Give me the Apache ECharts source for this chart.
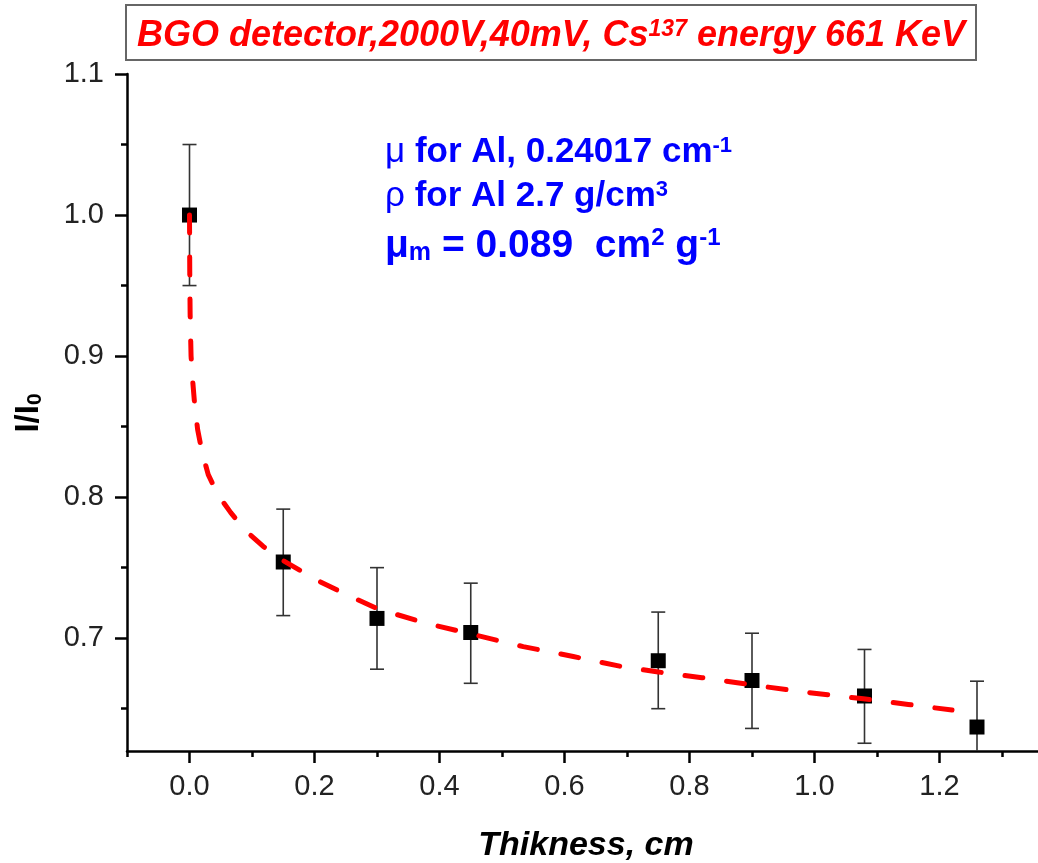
<!DOCTYPE html>
<html><head><meta charset="utf-8">
<script src="https://cdn.jsdelivr.net/npm/echarts@6/dist/echarts.min.js"></script>
<style>html,body{margin:0;padding:0;background:#fff}#c{width:1038px;height:863px}</style>
</head><body><div id="c"></div>
<script>
// measured data
const thickness = [0, 0.15, 0.30, 0.45, 0.75, 0.90, 1.08, 1.26];
const ratio     = [1.000, 0.754, 0.714, 0.704, 0.684, 0.670, 0.659, 0.637];
const errLow    = [0.950, 0.716, 0.678, 0.668, 0.650, 0.636, 0.6255, 0.605];
const errHigh   = [1.050, 0.7915, 0.750, 0.739, 0.7185, 0.7035, 0.692, 0.6695];
// fitted curve
const fitX = [0, 0.0004, 0.001, 0.0025, 0.005, 0.008, 0.013, 0.02, 0.03, 0.045, 0.066, 0.09, 0.118, 0.15, 0.20, 0.246, 0.30, 0.375, 0.45, 0.534, 0.614, 0.69, 0.75, 0.82, 0.898, 0.98, 1.078, 1.15, 1.22];
const fitY = [1.0, 0.96, 0.93, 0.90, 0.883, 0.867, 0.848, 0.832, 0.816, 0.802, 0.789, 0.776, 0.765, 0.755, 0.742, 0.732, 0.721, 0.711, 0.703, 0.694, 0.687, 0.680, 0.676, 0.672, 0.667, 0.662, 0.657, 0.653, 0.649];
// ticks
const xMajorTicks = [0, 0.2, 0.4, 0.6, 0.8, 1.0, 1.2];
const xMinorTicks = [-0.1, 0.1, 0.3, 0.5, 0.7, 0.9, 1.1, 1.3];
const yMajorTicks = [0.7, 0.8, 0.9, 1.0, 1.1];
const yMinorTicks = [0.65, 0.75, 0.85, 0.95, 1.05];
// texts
const titleParts = ['BGO detector,2000V,40mV, Cs', '137', ' energy 661 KeV'];
const xTitle = 'Thikness, cm';

const FONT = 'Liberation Sans, Arial, Helvetica, sans-serif';
const X_MIN = -0.1, X_MAX = 1.3576, Y_MIN = 0.62, Y_MAX = 1.1;

const chart = echarts.init(document.getElementById('c'), null, {renderer: 'canvas'});

const axisCommon = {
  type: 'value', splitLine: {show: false}, gridIndex: 0
};

const option = {
  backgroundColor: '#fff',
  animation: false,
  grid: {left: 127, right: 0, top: 74, bottom: 112, containLabel: false},
  xAxis: [
    Object.assign({}, axisCommon, {
      min: X_MIN, max: X_MAX, position: 'bottom',
      axisLine: {show: true, onZero: false, lineStyle: {color: '#000', width: 2.5}},
      axisTick: {show: true, customValues: xMajorTicks, length: 12, inside: false, lineStyle: {color: '#000', width: 2.5}},
      axisLabel: {show: true, customValues: xMajorTicks, margin: 21, color: '#222', fontSize: 29, fontFamily: FONT,
        formatter: v => v.toFixed(1)}
    }),
    Object.assign({}, axisCommon, {
      min: X_MIN, max: X_MAX, position: 'bottom',
      axisLine: {show: false, onZero: false},
      axisTick: {show: true, customValues: xMinorTicks, length: 6, lineStyle: {color: '#000', width: 2.5}},
      axisLabel: {show: false}
    })
  ],
  yAxis: [
    Object.assign({}, axisCommon, {
      min: Y_MIN, max: Y_MAX, position: 'left',
      axisLine: {show: true, onZero: false, lineStyle: {color: '#000', width: 2.5}},
      axisTick: {show: true, customValues: yMajorTicks, length: 12, lineStyle: {color: '#000', width: 2.5}},
      axisLabel: {show: true, customValues: yMajorTicks, margin: 23, color: '#222', fontSize: 29, fontFamily: FONT,
        formatter: v => v.toFixed(1)}
    }),
    Object.assign({}, axisCommon, {
      min: Y_MIN, max: Y_MAX, position: 'left',
      axisLine: {show: false, onZero: false},
      axisTick: {show: true, customValues: yMinorTicks, length: 6, lineStyle: {color: '#000', width: 2.5}},
      axisLabel: {show: false}
    })
  ],
  series: [
    {
      type: 'custom', xAxisIndex: 0, yAxisIndex: 0, clip: true, z: 2,
      data: thickness.map((x, i) => [x, errLow[i], errHigh[i]]),
      renderItem: function (params, api) {
        const x = api.value(0);
        const lo = api.coord([x, api.value(1)]);
        const hi = api.coord([x, api.value(2)]);
        const w = 7;
        const st = {stroke: '#333', lineWidth: 1.6};
        return {type: 'group', children: [
          {type: 'line', shape: {x1: lo[0], y1: lo[1], x2: hi[0], y2: hi[1]}, style: st},
          {type: 'line', shape: {x1: hi[0] - w, y1: hi[1], x2: hi[0] + w, y2: hi[1]}, style: st},
          {type: 'line', shape: {x1: lo[0] - w, y1: lo[1], x2: lo[0] + w, y2: lo[1]}, style: st}
        ]};
      }
    },
    {
      type: 'scatter', xAxisIndex: 0, yAxisIndex: 0, z: 3,
      symbol: 'rect', symbolSize: 15,
      itemStyle: {color: '#000', opacity: 1},
      data: thickness.map((x, i) => [x, ratio[i]])
    },
    {
      type: 'line', xAxisIndex: 0, yAxisIndex: 0, z: 4,
      showSymbol: false, symbol: 'none', smooth: false,
      lineStyle: {color: '#ff0000', width: 5, type: [18, 24], cap: 'round', join: 'round'},
      data: fitX.map((x, i) => [x, fitY[i]])
    }
  ],
  graphic: [
    {type: 'rect', shape: {x: 126, y: 5, width: 850, height: 55},
      style: {fill: '#fff', stroke: '#666', lineWidth: 2}, z: 10},
    {type: 'text', x: 551, y: 36, z: 11,
      style: {
        text: '{t|' + titleParts[0] + '}{s|' + titleParts[1] + '}{t|' + titleParts[2] + '}',
        align: 'center', verticalAlign: 'middle',
        rich: {
          t: {fontSize: 36, fontWeight: 'bold', fontStyle: 'italic', fontFamily: FONT, fill: '#ff0000', color: '#ff0000'},
          s: {fontSize: 23, fontWeight: 'bold', fontStyle: 'italic', fontFamily: FONT, fill: '#ff0000', color: '#ff0000', verticalAlign: 'top', padding: [0, 0, 6, 0]}
        }
      }
    },
    {type: 'text', x: 586, y: 846, z: 11,
      style: {text: xTitle, align: 'center', verticalAlign: 'middle', fontSize: 34, fontWeight: 'bold', fontStyle: 'italic', fontFamily: FONT, fill: '#000'}
    },
    {type: 'text', x: 29, y: 413, rotation: Math.PI / 2, z: 11,
      style: {
        text: '{a|I/I}{b|0}', align: 'center', verticalAlign: 'middle',
        rich: {
          a: {fontSize: 33, fontWeight: 'bold', fontFamily: FONT, fill: '#000', color: '#000'},
          b: {fontSize: 21, fontWeight: 'bold', fontFamily: FONT, fill: '#000', color: '#000', verticalAlign: 'bottom'}
        }
      }
    },
    {type: 'text', x: 385, y: 152, z: 11,
      style: {
        text: '{m|μ}{b| for Al, 0.24017 cm}{s|-1}', align: 'left', verticalAlign: 'middle',
        rich: {
          m: {fontSize: 35, fontFamily: FONT, fill: '#0000ff', color: '#0000ff'},
          b: {fontSize: 35, fontWeight: 'bold', fontFamily: FONT, fill: '#0000ff', color: '#0000ff'},
          s: {fontSize: 22, fontWeight: 'bold', fontFamily: FONT, fill: '#0000ff', color: '#0000ff', verticalAlign: 'top', padding: [0, 0, 6, 0]}
        }
      }
    },
    {type: 'text', x: 385, y: 196, z: 11,
      style: {
        text: '{m|ρ}{b| for Al 2.7 g/cm}{s|3}', align: 'left', verticalAlign: 'middle',
        rich: {
          m: {fontSize: 35, fontFamily: FONT, fill: '#0000ff', color: '#0000ff'},
          b: {fontSize: 35, fontWeight: 'bold', fontFamily: FONT, fill: '#0000ff', color: '#0000ff'},
          s: {fontSize: 22, fontWeight: 'bold', fontFamily: FONT, fill: '#0000ff', color: '#0000ff', verticalAlign: 'top', padding: [0, 0, 6, 0]}
        }
      }
    },
    {type: 'text', x: 385, y: 246, z: 11,
      style: {
        text: '{m|μ}{u|m}{b| = 0.089  cm}{s|2}{b| g}{s|-1}', align: 'left', verticalAlign: 'middle',
        rich: {
          m: {fontSize: 39, fontWeight: 'bold', fontFamily: FONT, fill: '#0000ff', color: '#0000ff'},
          u: {fontSize: 25, fontWeight: 'bold', fontFamily: FONT, fill: '#0000ff', color: '#0000ff', verticalAlign: 'bottom', padding: [8, 0, 0, 0]},
          b: {fontSize: 39, fontWeight: 'bold', fontFamily: FONT, fill: '#0000ff', color: '#0000ff'},
          s: {fontSize: 24, fontWeight: 'bold', fontFamily: FONT, fill: '#0000ff', color: '#0000ff', verticalAlign: 'top', padding: [0, 0, 6, 0]}
        }
      }
    }
  ]
};
chart.setOption(option);
</script>
</body></html>
